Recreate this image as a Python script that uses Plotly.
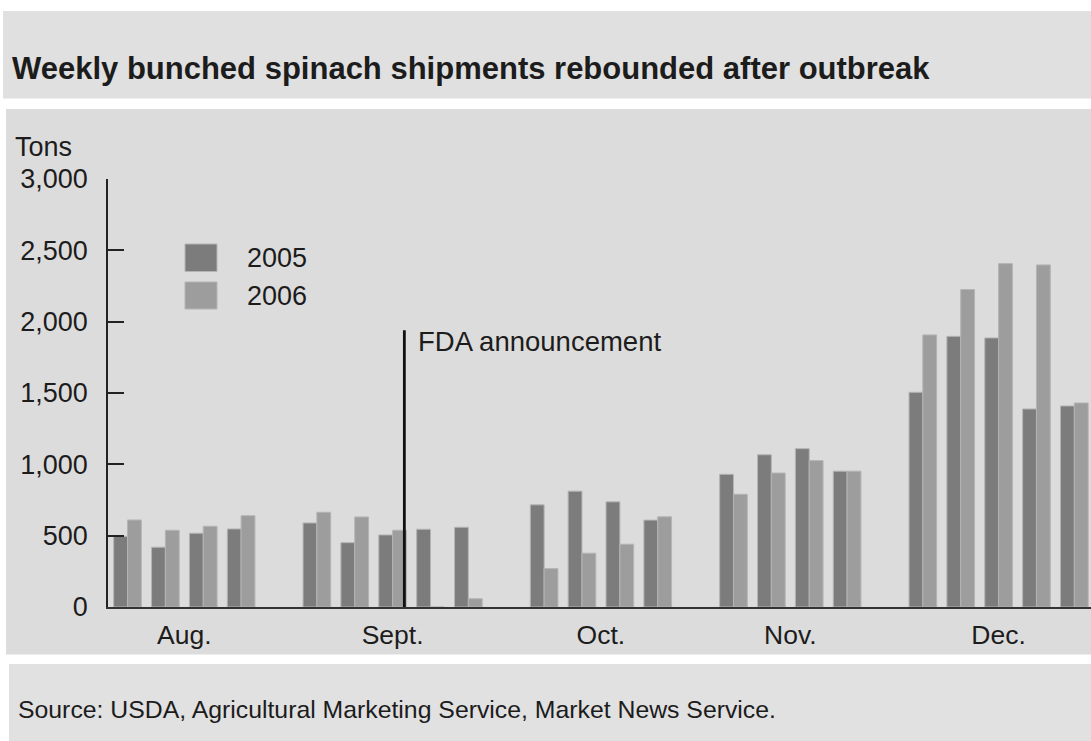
import plotly.graph_objects as go

# ---- data ----
months = ["Aug.", "Sept.", "Oct.", "Nov.", "Dec."]
weeks_per_month = [4, 5, 4, 4, 5]
tons_2005 = [495, 419, 517, 547,
             589, 451, 505, 545, 559,
             716, 812, 737, 609,
             930, 1067, 1110, 952,
             1505, 1897, 1886, 1388, 1409]
tons_2006 = [610, 538, 566, 640,
             664, 631, 538, 0, 58,
             269, 377, 440, 632,
             790, 939, 1026, 952,
             1907, 2225, 2407, 2398, 1430]
y_ticks = [0, 500, 1000, 1500, 2000, 2500, 3000]
fda_week_pos = 7.31  # between 3rd and 4th Sept week

# slot positions: one empty slot between months
xpos, month_centers = [], []
s = 0
for n in weeks_per_month:
    xpos.extend(range(s, s + n))
    month_centers.append(s + (n - 1) / 2)
    s += n + 1

W, H = 1091, 741
L, T, B = 108, 179, 134
PW, PH = W - L, H - T - B

def px(x):
    return (x - L) / PW

def py(y):
    return (H - B - y) / PH

DARK = "#7c7c7c"
LIGHT = "#9d9d9d"
EDGE = "#b4b4b4"
TXT = "#1c1c1c"
FONT = "Liberation Sans, Arial, sans-serif"

fig = go.Figure()
fig.add_bar(x=xpos, y=tons_2005, name="2005", marker=dict(color=DARK, line=dict(color=EDGE, width=1)), showlegend=False)
fig.add_bar(x=xpos, y=tons_2006, name="2006", marker=dict(color=LIGHT, line=dict(color=EDGE, width=1)), showlegend=False)

shapes = [
    dict(type="rect", xref="paper", yref="paper", x0=px(3), x1=px(1092), y0=py(98.5), y1=py(11),
         fillcolor="#e0e0e0", line=dict(width=0), layer="below"),
    dict(type="rect", xref="paper", yref="paper", x0=px(6), x1=px(1092), y0=py(654.5), y1=py(109),
         fillcolor="#dcdcdc", line=dict(width=0), layer="below"),
    dict(type="rect", xref="paper", yref="paper", x0=px(9), x1=px(1092), y0=py(742), y1=py(664),
         fillcolor="#e1e1e1", line=dict(width=0), layer="below"),
    # FDA line
    dict(type="line", xref="x", yref="y", x0=fda_week_pos, x1=fda_week_pos, y0=0, y1=1940,
         line=dict(color="#111111", width=2.8)),
    # legend swatches
    dict(type="rect", xref="paper", yref="paper", x0=px(185), x1=px(217), y0=py(271.5), y1=py(244),
         fillcolor=DARK, line=dict(color=EDGE, width=1)),
    dict(type="rect", xref="paper", yref="paper", x0=px(185), x1=px(217), y0=py(309), y1=py(282),
         fillcolor=LIGHT, line=dict(color=EDGE, width=1)),
]

annotations = [
    dict(text="<b>Weekly bunched spinach shipments rebounded after outbreak</b>", xref="paper", yref="paper",
         x=px(10), y=py(68), xanchor="left", yanchor="middle", showarrow=False,
         font=dict(family=FONT, size=31, color=TXT)),
    dict(text="Tons", xref="paper", yref="paper", x=px(13), y=py(147), xanchor="left", yanchor="middle",
         showarrow=False, font=dict(family=FONT, size=27, color=TXT)),
    dict(text="2005", xref="paper", yref="paper", x=px(245), y=py(258), xanchor="left", yanchor="middle",
         showarrow=False, font=dict(family=FONT, size=27, color=TXT)),
    dict(text="2006", xref="paper", yref="paper", x=px(245), y=py(296), xanchor="left", yanchor="middle",
         showarrow=False, font=dict(family=FONT, size=27, color=TXT)),
    dict(text="FDA announcement", xref="paper", yref="paper", x=px(416), y=py(341), xanchor="left",
         yanchor="middle", showarrow=False, font=dict(family=FONT, size=27.5, color=TXT)),
    dict(text="Source: USDA, Agricultural Marketing Service, Market News Service.", xref="paper", yref="paper",
         x=px(16), y=py(709), xanchor="left", yanchor="middle", showarrow=False,
         font=dict(family=FONT, size=24.8, color=TXT)),
]

fig.update_layout(
    width=W, height=H,
    margin=dict(l=L, r=0, t=T, b=B),
    paper_bgcolor="white",
    plot_bgcolor="rgba(0,0,0,0)",
    barmode="group", bargap=0.27, bargroupgap=0,
    shapes=shapes, annotations=annotations,
    font=dict(family=FONT, color=TXT),
    xaxis=dict(range=[-0.515, 25.44], tickvals=month_centers, ticktext=months, ticks="",
               showline=True, linecolor="#333333", linewidth=1.5, showgrid=False, zeroline=False,
               layer="below traces", tickfont=dict(family=FONT, size=26.5, color=TXT),
               ticklabelstandoff=3),
    yaxis=dict(range=[0, 3000], tickvals=y_ticks, tickformat=",", ticks="inside", ticklen=16,
               tickwidth=1.5, tickcolor="#222222", showline=True, linecolor="#222222", linewidth=1.5,
               showgrid=False, zeroline=False, tickfont=dict(family=FONT, size=27, color=TXT),
               ticklabelstandoff=13),
)

fig.write_html("out.html")
